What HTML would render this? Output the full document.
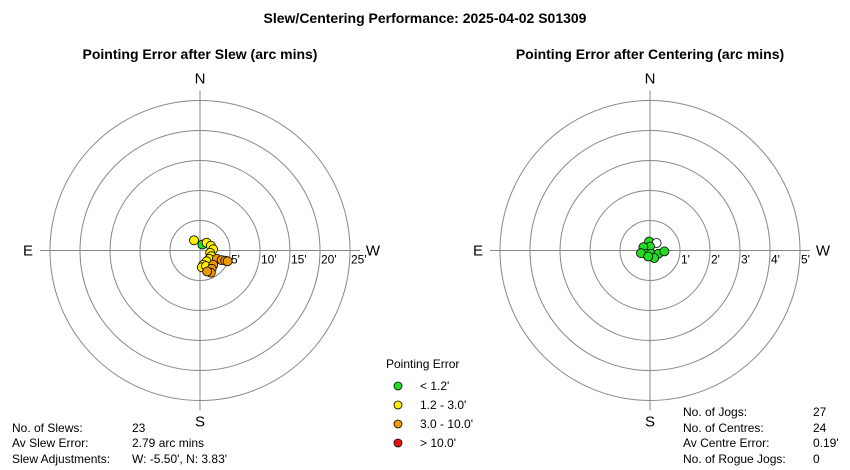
<!DOCTYPE html>
<html><head><meta charset="utf-8"><style>
body{margin:0;background:#fff}
svg{display:block;font-family:"Liberation Sans",Arial,sans-serif}
</style></head><body>
<svg id="c" width="850" height="470" viewBox="0 0 850 470">
<text x="425" y="23" text-anchor="middle" font-size="14" font-weight="bold">Slew/Centering Performance: 2025-04-02 S01309</text>
<text x="200" y="59" text-anchor="middle" font-size="14" font-weight="bold">Pointing Error after Slew (arc mins)</text>
<text x="650" y="59" text-anchor="middle" font-size="14" font-weight="bold">Pointing Error after Centering (arc mins)</text>
<g id="left"></g>
<g id="right"></g>
<g font-size="12">
<text x="386" y="368">Pointing Error</text>
<g><circle cx="398" cy="386" r="4" fill="#22dd22" stroke="#000" stroke-width="0.8"/><text x="420" y="390">&lt; 1.2'</text></g>
<g><circle cx="398" cy="405" r="4" fill="#ffee00" stroke="#000" stroke-width="0.8"/><text x="420" y="409">1.2 - 3.0'</text></g>
<g><circle cx="398" cy="424" r="4" fill="#ee9900" stroke="#000" stroke-width="0.8"/><text x="420" y="428">3.0 - 10.0'</text></g>
<g><circle cx="398" cy="443" r="4" fill="#ee1111" stroke="#000" stroke-width="0.8"/><text x="420" y="447">&gt; 10.0'</text></g>
</g>
<g font-size="12">
<text x="12" y="432">No. of Slews:</text><text x="132" y="432">23</text>
<text x="12" y="447">Av Slew Error:</text><text x="132" y="447">2.79 arc mins</text>
<text x="12" y="463">Slew Adjustments:</text><text x="132" y="463">W: -5.50', N: 3.83'</text>
</g>
<g font-size="12">
<text x="683" y="416">No. of Jogs:</text><text x="813" y="416">27</text>
<text x="683" y="432">No. of Centres:</text><text x="813" y="432">24</text>
<text x="683" y="447">Av Centre Error:</text><text x="813" y="447">0.19'</text>
<text x="683" y="463">No. of Rogue Jogs:</text><text x="813" y="463">0</text>
</g>
</svg>
<script>
const slewW=[-1.0,0.4,1.1,1.8,2.2,1.7,1.9,1.55,1.1,0.55,0.3,1.0,2.8,3.6,4.2,4.6,2.2,1.95,1.8,1.2];
const slewN=[1.7,1.0,1.3,0.8,0.2,-0.4,-0.95,-1.4,-1.8,-2.4,-2.8,-2.6,-1.4,-1.6,-1.7,-1.8,-2.4,-3.05,-3.7,-3.5];
const centW=[-0.03,0.22,0,-0.22,-0.14,0.03,0.28,0.48,-0.3,0.14,-0.06];
const centN=[0.3,0.25,0.13,0.11,-0.11,-0.11,-0.11,-0.03,-0.09,-0.25,-0.2];
const centRogue=[0,1,0,0,0,0,0,0,0,0,0];
const slewTicks=["5'","10'","15'","20'","25'"];
const centTicks=["1'","2'","3'","4'","5'"];
const NS="http://www.w3.org/2000/svg";
function mk(tag,attrs,parent){const e=document.createElementNS(NS,tag);for(const k in attrs)e.setAttribute(k,attrs[k]);parent.appendChild(e);return e;}
function color(e){return e<1.2?"#22dd22":e<3?"#ffee00":e<10?"#ee9900":"#ee1111";}
function polar(g,cx,cy,ticks,unit,W,N,rogue){
  const R=30;
  const sx=w=>cx+w/unit*R, sy=n=>cy-n/unit*R;
  for(let i=1;i<=5;i++){const c=mk("circle",{cx:cx,cy:cy,r:R*i,fill:"none",stroke:"#888","stroke-width":1},g);
  
  }
  let l=mk("line",{x1:cx-160,y1:cy,x2:cx+160,y2:cy,stroke:"#888"},g);
  
  
  l=mk("line",{x1:cx,y1:cy-160,x2:cx,y2:cy+160,stroke:"#888"},g);
  
  
  ticks.forEach((t,i)=>{const tx=mk("text",{x:cx+R*(i+1)+1,y:cy+13,"font-size":12},g);tx.textContent=t;
  
  });
  [["N",cx,cy-167,"middle"],["S",cx,cy+176,"middle"],["E",cx-172,cy+5,"middle"],["W",cx+173,cy+5,"middle"]].forEach(d=>{
    const t=mk("text",{x:d[1],y:d[2],"font-size":15,"text-anchor":d[3]},g);t.textContent=d[0];
    
    });
  W.forEach((w,i)=>{const e=Math.hypot(w,N[i]);
    const p=mk("circle",{cx:sx(w),cy:sy(N[i]),r:4.5,fill:(rogue&&rogue[i])?"#fff":color(e),stroke:"#000","stroke-width":0.8},g);
    
    });
}
polar(document.getElementById("left"),200,250.5,slewTicks,5,slewW,slewN,null);
polar(document.getElementById("right"),650,250.5,centTicks,1,centW,centN,centRogue);
</script>
</body></html>
